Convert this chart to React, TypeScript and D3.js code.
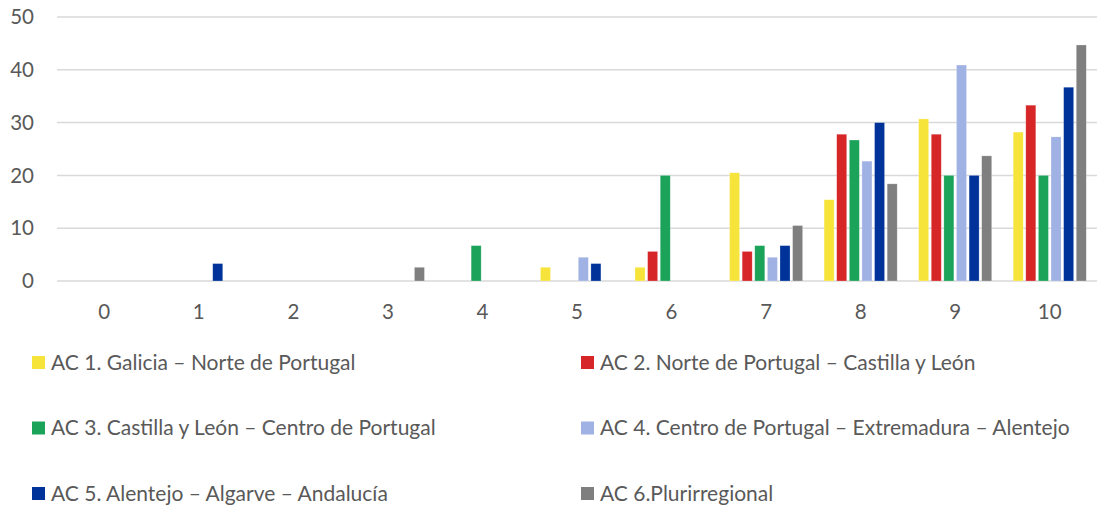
import React, { useEffect, useRef } from "react";
import * as d3 from "d3";

const categories = ["0", "1", "2", "3", "4", "5", "6", "7", "8", "9", "10"];
const seriesNames = [
  "AC 1. Galicia – Norte de Portugal",
  "AC 2. Norte de Portugal – Castilla y León",
  "AC 3. Castilla y León – Centro de Portugal",
  "AC 4. Centro de Portugal – Extremadura – Alentejo",
  "AC 5. Alentejo – Algarve – Andalucía",
  "AC 6.Plurirregional",
];
const seriesColors = ["#F7E43A", "#D62628", "#1CA35A", "#A0B1E3", "#00339A", "#7F7F7F"];
const ac1 = [0, 0, 0, 0, 0, 2.6, 2.6, 20.5, 15.4, 30.7, 28.2];
const ac2 = [0, 0, 0, 0, 0, 0, 5.6, 5.6, 27.8, 27.8, 33.3];
const ac3 = [0, 0, 0, 0, 6.7, 0, 20, 6.7, 26.7, 20, 20];
const ac4 = [0, 0, 0, 0, 0, 4.5, 0, 4.5, 22.7, 40.9, 27.3];
const ac5 = [0, 3.3, 0, 0, 0, 3.3, 0, 6.7, 30, 20, 36.7];
const ac6 = [0, 0, 0, 2.6, 0, 0, 0, 10.5, 18.4, 23.7, 44.7];
const seriesValues = [ac1, ac2, ac3, ac4, ac5, ac6];
const yTicks = [0, 10, 20, 30, 40, 50];

export default function App() {
  const ref = useRef<SVGSVGElement>(null);
  useEffect(() => {
    const svg = d3.select(ref.current);
    svg.selectAll("*").remove();
    const left = 57, right = 1097, top = 17, bottom = 281;
    const font = "Lato, 'Open Sans', sans-serif";
    const x = d3.scaleBand().domain(categories).range([left, right]).paddingInner(0.227).paddingOuter(0.1135);
    const xi = d3.scaleBand<number>().domain(d3.range(seriesNames.length)).range([0, x.bandwidth()]).paddingInner(0.206);
    const y = d3.scaleLinear().domain([0, 50]).range([bottom, top]);

    const grid = svg.append("g");
    yTicks.forEach((t) => {
      grid.append("line").attr("x1", left).attr("x2", right).attr("y1", y(t)).attr("y2", y(t))
        .attr("stroke", "#d9d9d9").attr("stroke-width", 1.5);
      svg.append("text").attr("x", 34).attr("y", y(t)).attr("dy", "0.35em").attr("text-anchor", "end")
        .attr("font-family", font).attr("font-size", 20.5).attr("fill", "#595959").text(String(t));
    });

    seriesValues.forEach((vals, si) => {
      svg.append("g").selectAll("rect").data(vals).join("rect")
        .attr("x", (_d, i) => (x(categories[i]) as number) + (xi(si) as number))
        .attr("width", xi.bandwidth())
        .attr("y", (d) => y(d))
        .attr("height", (d) => y(0) - y(d))
        .attr("fill", seriesColors[si])
        .attr("stroke", "#ffffff").attr("stroke-opacity", 0.4).attr("stroke-width", 0.6);
    });

    categories.forEach((c) => {
      svg.append("text").attr("x", (x(c) as number) + x.bandwidth() / 2).attr("y", 312).attr("dy", "0.35em")
        .attr("text-anchor", "middle").attr("font-family", font).attr("font-size", 20.5).attr("fill", "#595959").text(c);
    });

    const colX = [32, 581];
    const rowY = [362.5, 428, 493.5];
    seriesNames.forEach((name, i) => {
      const cx = colX[i % 2];
      const cy = rowY[Math.floor(i / 2)];
      svg.append("rect").attr("x", cx).attr("y", cy - 6.5).attr("width", 13).attr("height", 13).attr("fill", seriesColors[i]);
      svg.append("text").attr("x", cx + 19).attr("y", cy).attr("dy", "0.35em").attr("font-family", font)
        .attr("font-size", 21).attr("fill", "#595959").text(name);
    });
  }, []);
  return (
    <svg ref={ref} width={1099} height={509} style={{ position: "absolute", left: 0, top: 0, background: "#fff" }} />
  );
}
